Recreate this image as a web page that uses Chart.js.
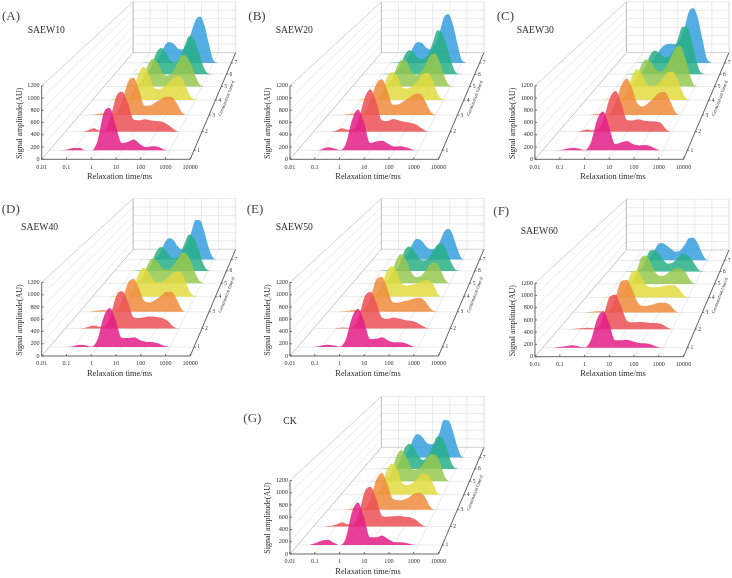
<!DOCTYPE html>
<html>
<head>
<meta charset="utf-8">
<script src="https://cdn.jsdelivr.net/npm/chart.js@4/dist/chart.umd.min.js"></script>
<style>
    html, body { margin: 0; background: #fff; overflow: hidden; width: 732px; height: 578px; }
    canvas { position: absolute; }
</style>
</head>
<body>
<script>
// log10(relaxation time) of every sample in the amplitude rows below
const logTimes = [-1.5, -1.25, -1, -0.75, -0.5, -0.25, 0, 0.25, 0.5, 0.75, 1, 1.25, 1.5, 1.75, 2, 2.25, 2.5, 2.75, 3, 3.25];
const days = [1, 2, 3, 4, 5, 6, 7];
const dayColors = ["rgba(228,30,135,0.85)", "rgba(236,80,85,0.85)", "rgba(238,140,60,0.85)", "rgba(226,220,65,0.85)",
    "rgba(150,200,80,0.85)", "rgba(40,175,135,0.85)", "rgba(55,160,222,0.85)"];
const timeTicks = [-2, -1, 0, 1, 2, 3, 4];
const timeLabels = ["0.01", "0.1", "1", "10", "100", "1000", "10000"];
const ampTicks = [0, 200, 400, 600, 800, 1000, 1200];

// one row per germination day, first row is day 1
const saew10 = [
    [0, 15, 40, 40, 0, 0, 160, 620, 710, 420, 125, 140, 180, 105, 55, 70, 60, 15, 0, 0],
    [0, 0, 25, 60, 20, 40, 280, 640, 710, 510, 215, 200, 220, 200, 190, 175, 125, 50, 0, 0],
    [0, 15, 30, 25, 5, 60, 300, 620, 700, 480, 180, 175, 235, 290, 345, 345, 225, 50, 0, 0],
    [0, 0, 15, 20, 15, 30, 200, 520, 655, 520, 250, 215, 270, 350, 450, 470, 320, 90, 10, 0],
    [0, 0, 0, 15, 20, 30, 170, 450, 575, 490, 280, 225, 300, 480, 650, 610, 420, 150, 15, 0],
    [0, 0, 0, 10, 15, 40, 190, 470, 570, 480, 300, 255, 370, 600, 820, 760, 500, 180, 20, 0],
    [0, 0, 0, 8, 15, 30, 170, 380, 475, 440, 335, 305, 420, 680, 970, 1050, 850, 430, 60, 0]
];
const saew20 = [
    [0, 0, 20, 50, 35, 5, 110, 500, 685, 470, 125, 150, 160, 110, 65, 70, 50, 15, 0, 0],
    [0, 0, 20, 60, 35, 45, 250, 610, 750, 530, 200, 190, 225, 200, 175, 160, 130, 60, 5, 0],
    [0, 5, 20, 30, 10, 60, 290, 590, 670, 470, 195, 200, 260, 320, 390, 400, 270, 70, 5, 0],
    [0, 0, 15, 20, 15, 30, 170, 440, 555, 480, 260, 230, 280, 380, 510, 535, 370, 110, 10, 0],
    [0, 0, 0, 15, 20, 35, 130, 380, 550, 540, 330, 240, 300, 460, 650, 680, 480, 170, 15, 0],
    [0, 0, 0, 10, 15, 40, 170, 420, 520, 450, 345, 330, 430, 680, 950, 880, 620, 260, 30, 0],
    [0, 0, 0, 8, 15, 25, 120, 340, 470, 455, 350, 310, 410, 680, 1030, 1100, 880, 450, 70, 0]
];
const saew30 = [
    [0, 5, 25, 45, 30, 5, 130, 500, 650, 410, 105, 130, 155, 100, 80, 90, 65, 15, 0, 0],
    [0, 0, 15, 40, 25, 45, 260, 600, 725, 510, 210, 200, 220, 195, 185, 180, 150, 30, 0, 0],
    [0, 0, 15, 25, 10, 40, 260, 560, 685, 490, 210, 160, 230, 320, 420, 430, 270, 60, 0, 0],
    [0, 0, 10, 20, 15, 25, 150, 460, 615, 510, 300, 265, 310, 420, 550, 560, 390, 130, 10, 0],
    [0, 0, 0, 10, 20, 30, 170, 440, 565, 500, 345, 310, 400, 590, 800, 840, 600, 220, 20, 0],
    [0, 0, 0, 10, 15, 30, 140, 400, 515, 460, 375, 370, 500, 760, 1030, 1020, 720, 290, 30, 0],
    [0, 0, 0, 8, 15, 25, 80, 220, 360, 425, 435, 420, 520, 790, 1160, 1240, 1020, 560, 110, 0]
];
const saew40 = [
    [0, 0, 15, 40, 30, 5, 130, 500, 655, 450, 155, 150, 165, 120, 90, 85, 65, 20, 0, 0],
    [0, 5, 25, 50, 30, 40, 260, 590, 660, 470, 200, 185, 205, 210, 205, 185, 130, 30, 0, 0],
    [5, 20, 30, 25, 8, 50, 260, 540, 620, 440, 200, 175, 220, 290, 370, 375, 240, 40, 0, 0],
    [0, 0, 10, 15, 15, 30, 160, 450, 575, 480, 310, 280, 320, 400, 490, 500, 350, 100, 10, 0],
    [0, 0, 0, 10, 15, 30, 150, 400, 515, 440, 310, 280, 340, 490, 635, 600, 400, 140, 15, 0],
    [0, 0, 0, 10, 15, 30, 180, 430, 520, 440, 300, 270, 370, 590, 790, 710, 470, 160, 15, 0],
    [0, 0, 0, 8, 15, 25, 130, 370, 485, 445, 300, 225, 330, 610, 900, 890, 620, 250, 30, 0]
];
const saew50 = [
    [0, 5, 25, 40, 25, 5, 130, 490, 640, 440, 135, 140, 165, 110, 80, 80, 60, 15, 0, 0],
    [0, 0, 5, 15, 10, 30, 240, 570, 645, 460, 195, 170, 195, 175, 150, 135, 110, 50, 5, 0],
    [0, 10, 20, 35, 15, 70, 300, 610, 650, 440, 180, 170, 195, 215, 250, 265, 200, 60, 5, 0],
    [0, 0, 5, 15, 15, 40, 220, 510, 600, 470, 250, 220, 240, 270, 320, 330, 250, 50, 0, 0],
    [0, 0, 0, 10, 15, 35, 190, 480, 605, 490, 240, 130, 150, 260, 400, 430, 300, 70, 0, 0],
    [0, 0, 5, 15, 15, 30, 160, 450, 530, 440, 280, 225, 270, 420, 570, 590, 420, 170, 20, 0],
    [0, 0, 0, 5, 10, 25, 130, 370, 470, 425, 305, 235, 240, 390, 620, 700, 560, 250, 30, 0]
];
const saew60 = [
    [3, 15, 30, 40, 20, 5, 130, 470, 610, 420, 125, 125, 135, 105, 80, 75, 55, 15, 0, 0],
    [0, 5, 15, 25, 15, 40, 280, 580, 610, 400, 150, 120, 125, 120, 110, 110, 95, 35, 0, 0],
    [0, 10, 20, 30, 15, 70, 320, 590, 610, 430, 190, 120, 130, 155, 180, 180, 140, 30, 0, 0],
    [0, 0, 8, 15, 15, 45, 250, 500, 530, 390, 225, 200, 205, 220, 240, 240, 195, 60, 5, 0],
    [0, 0, 0, 10, 15, 40, 250, 540, 590, 430, 220, 165, 190, 260, 320, 320, 250, 80, 5, 0],
    [0, 0, 5, 15, 15, 40, 220, 450, 470, 380, 240, 170, 200, 300, 385, 360, 260, 100, 10, 0],
    [0, 0, 3, 10, 15, 30, 170, 350, 390, 335, 255, 195, 215, 340, 500, 510, 380, 150, 15, 0]
];
const ck = [
    [5, 35, 75, 90, 40, 0, 120, 550, 715, 470, 130, 130, 160, 100, 50, 45, 35, 10, 0, 0],
    [0, 10, 35, 70, 40, 40, 260, 620, 700, 490, 190, 170, 180, 190, 170, 160, 115, 30, 0, 0],
    [0, 0, 15, 30, 20, 40, 230, 570, 690, 490, 210, 180, 190, 230, 300, 320, 240, 50, 0, 0],
    [0, 0, 8, 15, 15, 30, 170, 480, 610, 510, 240, 190, 230, 320, 420, 400, 220, 30, 0, 0],
    [0, 0, 0, 10, 15, 30, 180, 500, 645, 510, 290, 235, 300, 430, 560, 550, 360, 80, 0, 0],
    [0, 0, 0, 10, 15, 30, 180, 450, 545, 450, 270, 195, 290, 500, 700, 680, 450, 130, 10, 0],
    [0, 0, 0, 8, 15, 25, 130, 400, 535, 485, 355, 300, 340, 560, 850, 840, 610, 250, 25, 0]
];

// origin is the pixel of (0.01 ms, 0 AU) on the page
const panels = [
    {letter: "(A)", name: "SAEW10", rows: saew10, ox: 41.7, oy: 159.3, lx: 2, ly: 16.7, nx: 27.7, ny: 30},
    {letter: "(B)", name: "SAEW20", rows: saew20, ox: 290, oy: 159.3, lx: 248.3, ly: 16.7, nx: 275.7, ny: 30.7},
    {letter: "(C)", name: "SAEW30", rows: saew30, ox: 535, oy: 159.3, lx: 496.7, ly: 16.7, nx: 516.7, ny: 30},
    {letter: "(D)", name: "SAEW40", rows: saew40, ox: 41.7, oy: 356, lx: 1.7, ly: 210, nx: 21, ny: 227.3},
    {letter: "(E)", name: "SAEW50", rows: saew50, ox: 290, oy: 356, lx: 246.7, ly: 209.3, nx: 275.7, ny: 227.7},
    {letter: "(F)", name: "SAEW60", rows: saew60, ox: 535, oy: 356.7, lx: 493.3, ly: 211.7, nx: 520.7, ny: 231},
    {letter: "(G)", name: "CK", rows: ck, ox: 290, oy: 554, lx: 243.3, ly: 418.3, nx: 283.3, ny: 421.7}
];

const SERIF = '"Liberation Serif", serif';
const DECADE_PX = 24.75;
const AMP_PX = 73.5 / 1200;
// vanishing point of the box, in axis units of the front plane
const VP_LOG = 9.94;
const VP_AMP = 5633;
const DAY_MIN = 0.556;
const DAY_MAX = 8;
const DEPTH_K = 0.449;

function depthScale(day) {
    let t = 0.0594 + (day - 1) * 0.134;
    return 1 / (1 + DEPTH_K * t);
}

// perspective: slide a point towards the vanishing point according to its day
function project(logT, amp, day) {
    let s = depthScale(day);
    return {x: VP_LOG + (logT - VP_LOG) * s, y: VP_AMP + (amp - VP_AMP) * s};
}

function buildDatasets(rows) {
    return rows.map(function (row, i) {
        return {
            label: "Day " + days[i],
            data: row.map(function (amp, k) { return project(logTimes[k], amp, days[i]); }),
            backgroundColor: dayColors[i],
            borderWidth: 0,
            pointRadius: 0,
            cubicInterpolationMode: "monotone",
            fill: {value: project(0, 0, days[i]).y},
            clip: false
        };
    });
}

function putText(ctx, text, x, y, font, color, align, angle) {
    ctx.save();
    ctx.translate(x, y);
    if (angle) ctx.rotate(angle);
    ctx.font = font;
    ctx.fillStyle = color;
    ctx.textAlign = align || "center";
    ctx.textBaseline = "middle";
    ctx.fillText(text, 0, 0);
    ctx.restore();
}

// walls, floor grid, box edges and the depth axis
const boxPlugin = {
    id: "boxPlugin",
    beforeDatasetsDraw(chart, args, opts) {
        let ctx = chart.ctx, xs = chart.scales.x, ys = chart.scales.y;
        let px = function (logT, amp, day) {
            let p = project(logT, amp, day);
            return [xs.getPixelForValue(p.x), ys.getPixelForValue(p.y)];
        };
        let seg = function (a, b, color, w) {
            ctx.strokeStyle = color;
            ctx.lineWidth = w || 0.6;
            ctx.beginPath();
            ctx.moveTo(a[0], a[1]);
            ctx.lineTo(b[0], b[1]);
            ctx.stroke();
        };
        let grid = "#dcdcdc", edge = "#b4b4b4", dark = "#555";
        ctx.save();
        timeTicks.forEach(function (t) {
            seg(px(t, 0, DAY_MIN), px(t, 0, DAY_MAX), grid);
            seg(px(t, 0, DAY_MAX), px(t, 1200, DAY_MAX), grid);
        });
        ampTicks.forEach(function (a) {
            seg(px(-2, a, DAY_MIN), px(-2, a, DAY_MAX), a === 0 || a === 1200 ? edge : grid);
            seg(px(-2, a, DAY_MAX), px(4, a, DAY_MAX), a === 0 ? edge : grid);
        });
        days.forEach(function (d) {
            seg(px(-2, 0, d), px(4, 0, d), grid);
        });
        seg(px(-2, 0, DAY_MAX), px(-2, 1200, DAY_MAX), edge, 0.8);
        seg(px(4, 0, DAY_MAX), px(4, 1200, DAY_MAX), grid);

        // front axes and the receding day axis
        seg(px(-2, 0, DAY_MIN), px(-2, 1200, DAY_MIN), dark, 0.9);
        seg(px(-2, 0, DAY_MIN), px(4, 0, DAY_MIN), dark, 0.9);
        seg(px(4, 0, DAY_MIN), px(4, 0, DAY_MAX), dark, 0.9);
        timeTicks.forEach(function (t) {
            let p = px(t, 0, DAY_MIN);
            seg(p, [p[0], p[1] - 2], dark, 0.8);
        });
        ampTicks.forEach(function (a) {
            let p = px(-2, a, DAY_MIN);
            seg(p, [p[0] + 2, p[1]], dark, 0.8);
        });
        days.forEach(function (d) {
            let p = px(4, 0, d);
            seg(p, [p[0] + 2, p[1]], dark, 0.8);
            putText(ctx, String(d), p[0] + 4.5, p[1], "5.5px " + SERIF, "#333");
        });
        ctx.restore();
    },
    afterDraw(chart, args, opts) {
        let ctx = chart.ctx, xs = chart.scales.x, ys = chart.scales.y;
        let ox = xs.getPixelForValue(-2), oy = ys.getPixelForValue(0);
        putText(ctx, "Relaxation time/ms", ox + 78, oy + 17.4, "8.4px " + SERIF, "#2c2c2c");
        putText(ctx, "Signal amplitude(AU)", ox - 21.7, oy - 36, "8px " + SERIF, "#2c2c2c", "center", -Math.PI / 2);
        putText(ctx, "Germination time/d", ox + 185, oy - 61, "4.8px " + SERIF, "#333", "center", -69 * Math.PI / 180);
        putText(ctx, opts.letter, opts.lx, opts.ly, "13px " + SERIF, "#444", "left");
        putText(ctx, opts.name, opts.nx, opts.ny, "9.7px " + SERIF, "#2c2c2c", "left");
    }
};

function drawPanel(panel) {
    let canvasW = 253, canvasH = 192, padTop = 8;
    let left = Math.floor(panel.ox) - 50, top = Math.floor(panel.oy) - 167;
    let canvas = document.createElement("canvas");
    canvas.width = canvasW;
    canvas.height = canvasH;
    canvas.style.left = left + "px";
    canvas.style.top = top + "px";
    document.body.appendChild(canvas);

    let areaLeft = panel.ox - left;
    let areaBottom = panel.oy - top;
    new Chart(canvas, {
        type: "line",
        data: {datasets: buildDatasets(panel.rows)},
        plugins: [boxPlugin],
        options: {
            responsive: false,
            animation: false,
            events: [],
            layout: {padding: {top: padTop}},
            plugins: {
                legend: {display: false},
                tooltip: {enabled: false},
                boxPlugin: {letter: panel.letter, name: panel.name,
                    lx: panel.lx - left, ly: panel.ly - top, nx: panel.nx - left, ny: panel.ny - top}
            },
            scales: {
                x: {
                    type: "linear",
                    min: -2,
                    max: -2 + (canvasW - areaLeft) / DECADE_PX,
                    grid: {display: false, drawTicks: false},
                    border: {display: false},
                    afterBuildTicks: function (axis) {
                        axis.ticks = timeTicks.map(function (v) { return {value: v}; });
                    },
                    afterFit: function (axis) { axis.height = canvasH - areaBottom; },
                    ticks: {
                        autoSkip: false,
                        maxRotation: 0,
                        padding: 4,
                        color: "#333",
                        font: {family: SERIF, size: 6.2},
                        callback: function (v) { return timeLabels[timeTicks.indexOf(v)]; }
                    }
                },
                y: {
                    type: "linear",
                    min: 0,
                    max: (areaBottom - padTop) / AMP_PX,
                    grid: {display: false, drawTicks: false},
                    border: {display: false},
                    afterBuildTicks: function (axis) {
                        axis.ticks = ampTicks.map(function (v) { return {value: v}; });
                    },
                    afterFit: function (axis) { axis.width = areaLeft; },
                    ticks: {
                        padding: 2,
                        color: "#333",
                        font: {family: SERIF, size: 6.2},
                        callback: function (v) { return String(v); }
                    }
                }
            }
        }
    });
}

panels.forEach(drawPanel);
</script>
</body>
</html>
